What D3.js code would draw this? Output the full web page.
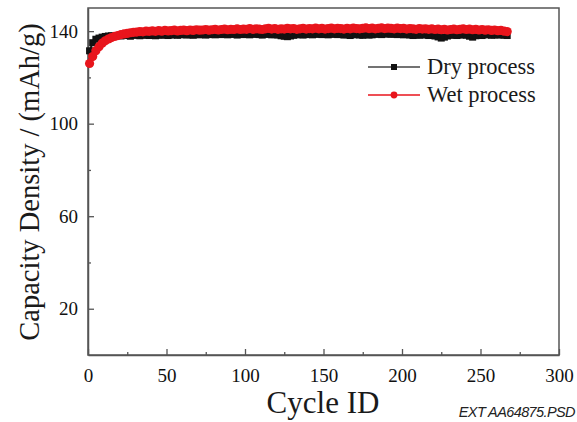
<!DOCTYPE html>
<html>
<head>
<meta charset="utf-8">
<script src="https://cdn.jsdelivr.net/npm/d3@7"></script>
<style>
  body { margin: 0; background: #fff; }
  svg { display: block; }
</style>
</head>
<body>
<div id="chart"></div>
<script>
// capacity values, one point every 2 cycles starting at cycle 1
var dryValues = [
  131.5, 135, 136.5, 137, 137.4, 137.7, 137.9, 138, 137.8, 138.1,
  137.9, 138.3, 138.1, 137.8, 138.2, 138.3, 138, 138.2, 138.4, 138.1,
  138.3, 138, 138.4, 138.2, 138.5, 138.1, 138.3, 138.5, 138.2, 138.4,
  138.6, 138.3, 138.5, 138.2, 138.6, 138.4, 138.7, 138.3, 138.5, 138.6,
  138.4, 138.7, 138.5, 138.8, 138.4, 138.6, 138.7, 138.3, 138.6, 138.5,
  138.7, 138.4, 138.6, 138.8, 138.5, 138.3, 138.6, 138.7, 138.4, 138.5,
  138.3, 138, 137.8, 137.6, 137.9, 138.2, 138.4, 138.6, 138.3, 138.5,
  138.7, 138.4, 138.6, 138.8, 138.5, 138.7, 138.4, 138.6, 138.8, 138.5,
  138.6, 138.3, 138.5, 138.1, 138.4, 138.6, 138.3, 138.2, 138.5, 138.3,
  138.4, 138.6, 138.8, 138.5, 138.7, 138.9, 138.6, 138.8, 138.5, 138.7,
  138.4, 138.6, 138.3, 138.1, 138.4, 138.2, 138.5, 138.3, 138.1, 138.3,
  137.9, 137.5, 137, 137.4, 137.9, 138.2, 138.4, 138.1, 138.3, 138.5,
  138.2, 137.8, 137.4, 138, 138.3, 138.1, 138.4, 138.5, 138.2, 138.4,
  138.3, 138.5, 138.2, 138.1
];
var wetValues = [
  126, 129, 131.5, 133.3, 134.8, 135.8, 136.6, 137.2, 137.7, 138.1,
  138.5, 138.8, 139, 139.3, 139.5, 139.6, 139.8, 139.7, 140, 139.9,
  140.1, 139.9, 140.2, 140, 140.3, 140.1, 140.2, 140.4, 140.1, 140.3,
  140.4, 140.2, 140.5, 140.3, 140.6, 140.4, 140.5, 140.7, 140.4, 140.6,
  140.8, 140.5, 140.7, 140.9, 140.6, 140.8, 140.7, 141, 140.7, 140.9,
  140.8, 141.1, 140.8, 141, 140.9, 140.7, 141, 141.2, 140.9, 141.1,
  140.8, 141, 140.9, 141.2, 141, 141.1, 140.8, 141, 141.2, 140.9,
  141.1, 141, 141.3, 141, 141.2, 140.9, 141.1, 141.3, 141, 141.2,
  141.1, 140.9, 141.2, 141, 141.3, 141.1, 141, 141.2, 141.4, 141.1,
  141.3, 141, 141.2, 141.4, 141.1, 141.3, 141.2, 141, 141.3, 141.1,
  141.2, 140.9, 141.1, 141, 140.8, 141.1, 140.9, 141, 140.8, 141,
  140.7, 140.9, 140.6, 140.8, 140.5, 140.7, 140.9, 140.6, 140.8, 141,
  140.7, 140.9, 140.6, 140.8, 140.5, 140.7, 140.4, 140.6, 140.3, 140.5,
  140.2, 140.3, 140, 139.8
];
var seriesNames = ["Dry process", "Wet process"];
var seriesColors = ["#111111", "#e8151c"];
var xTicks = [0, 50, 100, 150, 200, 250, 300];
var xMinorTicks = [25, 75, 125, 175, 225, 275];
var yTicks = [20, 60, 100, 140];
var yMinorTicks = [40, 80, 120];

var width = 577, height = 422;
var margin = {top: 8, right: 18, bottom: 67, left: 88};
var serif = '"Liberation Serif", "Times New Roman", serif';

var svg = d3.select("#chart").append("svg")
  .attr("width", width)
  .attr("height", height);

var x = d3.scaleLinear().domain([0, 300]).range([margin.left, width - margin.right]);
var y = d3.scaleLinear().domain([0, 150]).range([height - margin.bottom, margin.top]);

function toPoints(vals) {
  return vals.map(function(v, i) { return {cycle: 1 + 2 * i, value: v}; });
}
var series = [toPoints(dryValues), toPoints(wetValues)];

// frame
svg.append("rect")
  .attr("x", x(0)).attr("y", y(150))
  .attr("width", x(300) - x(0)).attr("height", y(0) - y(150))
  .attr("fill", "none").attr("stroke", "#555").attr("stroke-width", 1.5);

// x axis, ticks inward
svg.append("g").attr("class", "major").attr("transform", "translate(0," + y(0) + ")")
  .call(d3.axisBottom(x).tickValues(xTicks).tickSizeInner(-6).tickSizeOuter(0).tickPadding(14));
svg.append("g").attr("class", "minor").attr("transform", "translate(0," + y(0) + ")")
  .call(d3.axisBottom(x).tickValues(xMinorTicks).tickSizeInner(-3).tickSizeOuter(0).tickFormat(""));

// y axis, ticks inward
svg.append("g").attr("class", "major").attr("transform", "translate(" + x(0) + ",0)")
  .call(d3.axisLeft(y).tickValues(yTicks).tickSizeInner(-6).tickSizeOuter(0).tickPadding(10));
svg.append("g").attr("class", "minor").attr("transform", "translate(" + x(0) + ",0)")
  .call(d3.axisLeft(y).tickValues(yMinorTicks).tickSizeInner(-3).tickSizeOuter(0).tickFormat(""));

svg.selectAll(".minor .domain").remove();
svg.selectAll(".major")
  .attr("font-family", serif)
  .attr("font-size", 19);
svg.selectAll(".domain").attr("stroke", "#555").attr("stroke-width", 1.5);
svg.selectAll(".tick line").attr("stroke", "#555").attr("stroke-width", 1.3);
svg.selectAll(".major .tick text")
  .style("font-family", serif)
  .style("font-size", "19px")
  .style("fill", "#111");

// axis titles
svg.append("text")
  .attr("x", 323)
  .attr("y", 413)
  .attr("text-anchor", "middle")
  .style("font-family", serif)
  .style("font-size", "31px")
  .style("fill", "#1a1a1a")
  .text("Cycle ID");

svg.append("text")
  .attr("transform", "translate(39,182) rotate(-90)")
  .attr("text-anchor", "middle")
  .style("font-family", serif)
  .style("font-size", "28.5px")
  .style("fill", "#1a1a1a")
  .text("Capacity Density / (mAh/g)");

// series lines and markers
var line = d3.line().x(function(d) { return x(d.cycle); }).y(function(d) { return y(d.value); });

series.forEach(function(pts, si) {
  svg.append("path").datum(pts)
    .attr("fill", "none")
    .attr("stroke", seriesColors[si])
    .attr("stroke-width", 2)
    .attr("d", line);
  if (si === 0) {
    svg.append("g").selectAll("rect").data(pts).enter().append("rect")
      .attr("x", function(d) { return x(d.cycle) - 3.5; })
      .attr("y", function(d) { return y(d.value) - 3.5; })
      .attr("width", 7).attr("height", 7)
      .attr("fill", seriesColors[si]);
  } else {
    svg.append("g").selectAll("circle").data(pts).enter().append("circle")
      .attr("cx", function(d) { return x(d.cycle); })
      .attr("cy", function(d) { return y(d.value); })
      .attr("r", 4.6)
      .attr("fill", seriesColors[si]);
  }
});

// legend
var legend = svg.append("g").attr("transform", "translate(368,67)");
seriesNames.forEach(function(name, i) {
  var g = legend.append("g").attr("transform", "translate(0," + i * 28 + ")");
  g.append("line").attr("x1", 0).attr("x2", 52).attr("y1", 0).attr("y2", 0)
    .attr("stroke", i === 0 ? "#444" : seriesColors[i]).attr("stroke-width", 1.5);
  if (i === 0) {
    g.append("rect").attr("x", 23).attr("y", -3).attr("width", 6).attr("height", 6).attr("fill", seriesColors[i]);
  } else {
    g.append("circle").attr("cx", 26).attr("cy", 0).attr("r", 3.4).attr("fill", seriesColors[i]);
  }
  g.append("text").attr("x", 59).attr("y", 7)
    .style("font-family", serif)
    .style("font-size", "22.5px")
    .style("fill", "#1a1a1a")
    .text(name);
});

// watermark
svg.append("text")
  .attr("x", 575).attr("y", 417)
  .attr("text-anchor", "end")
  .style("font-family", '"Liberation Sans", Arial, sans-serif')
  .style("font-style", "italic")
  .style("font-size", "14.5px")
  .style("letter-spacing", "-0.6px")
  .style("fill", "#222")
  .text("EXT AA64875.PSD");
</script>
</body>
</html>
